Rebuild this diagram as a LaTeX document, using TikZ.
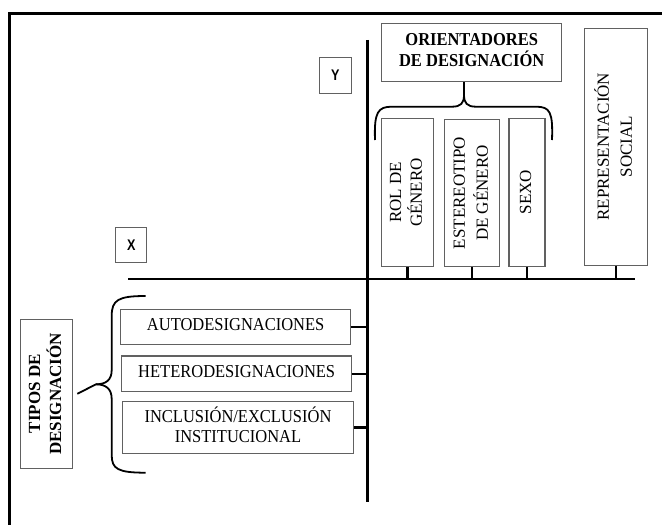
\documentclass[tikz,border=0pt]{standalone}
\usepackage{fontspec}
\setmainfont{Liberation Serif}
\newfontfamily\xysans{Liberation Sans}
\newcommand{\vtxt}[2]{\rotatebox{90}{\fontsize{17}{#1}\selectfont\begin{tabular}{@{}c@{}}#2\end{tabular}}}
\newcommand{\htxt}[1]{\scalebox{0.97}[1.07]{\begin{tabular}{@{}c@{}}#1\end{tabular}}}
\tikzset{
  box/.style={draw=black!62, line width=1.1pt, inner sep=0pt, align=center,
    font=\fontsize{17}{18}\selectfont},
  boldbox/.style={box, font=\fontsize{17}{17.5}\selectfont\bfseries},
  xybox/.style={draw=black!62, line width=1.1pt, inner sep=0pt,
    font=\xysans\bfseries\fontsize{14}{14}\selectfont},
  axis/.style={line width=2.3pt, black},
  stub/.style={line width=2.3pt, black},
  brace/.style={line width=1.8pt, black},
  frame/.style={line width=2.6pt, black}
}
\begin{document}
\begin{tikzpicture}[x=1pt, y=-1pt]
\useasboundingbox (0,0) rectangle (663,524);
% frame
\coordinate (fb) at (9.5,526);
\coordinate (fc) at (9.5,13.3);
\coordinate (fr) at (662,13.3);
\draw[frame] (fb) -- (fc) -- (fr);
% axes
\coordinate (vT) at (367.5,40);
\coordinate (vB) at (367.5,501.7);
\coordinate (hL) at (128,279);
\coordinate (hR) at (635,279);
\draw[axis] (vT) -- (vB);
\draw[axis] (hL) -- (hR);
% labels X Y
\node[xybox, minimum width=31.7pt, minimum height=36pt] (Y) at (335.2,75.3) {\scalebox{0.9}[1.1]{Y}};
\node[xybox, minimum width=31pt, minimum height=35.4pt] (X) at (131.2,245) {\scalebox{0.9}[1.1]{X}};
% top boxes
\node[boldbox, minimum width=180pt, minimum height=58.4pt] (ori) at (471.7,52.5)
  {\htxt{ORIENTADORES\\[-0.5pt]DE DESIGNACIÓN}};
\node[box, minimum width=51.6pt, minimum height=148.4pt] (rol) at (407.5,192.5)
  {\vtxt{20}{ROL DE\\GÉNERO}};
\node[box, minimum width=55pt, minimum height=147.4pt] (est) at (471.8,193)
  {\vtxt{23}{ESTEREOTIPO\\DE GÉNERO}};
\node[box, minimum width=36pt, minimum height=147.7pt] (sexo) at (527,192.2)
  {\vtxt{20}{SEXO}};
\node[box, minimum width=63.3pt, minimum height=236.7pt] (rep) at (615.7,146.7)
  {\vtxt{23}{REPRESENTACIÓN\\SOCIAL}};
% stubs to horizontal axis
\foreach \n in {rol,est,sexo,rep}
  \draw[stub] (\n.south) -- (\n.south |- hL);
% left boxes
\node[boldbox, minimum width=52.7pt, minimum height=149pt] (tipos) at (46.4,393.8)
  {\rotatebox{90}{\fontsize{17}{21}\selectfont\begin{tabular}{@{}c@{}}TIPOS DE\\DESIGNACIÓN\end{tabular}}};
\node[box, minimum width=230pt, minimum height=34.7pt] (auto) at (235.7,326.7)
  {\htxt{AUTODESIGNACIONES}};
\node[box, minimum width=230pt, minimum height=35.7pt] (hetero) at (236.7,373.8)
  {\htxt{HETERODESIGNACIONES}};
\node[box, minimum width=230.6pt, minimum height=51.6pt] (incl) at (238,427.5)
  {\htxt{INCLUSIÓN/EXCLUSIÓN\\INSTITUCIONAL}};
\foreach \n in {auto,hetero,incl}
  \draw[stub] (\n.east) -- (\n.east -| vT);
% top brace
\path (ori.south) ++(-7.7,0) coordinate (tb);
\draw[brace] (375,140) .. controls (374,112) and (378,106.7) .. (392,106.7)
  -- (452,106.7) .. controls (461,106.7) and (464,103) .. (464,95)
  -- (tb);
\draw[brace] (464,95) .. controls (464,103) and (467,106.7) .. (476,106.7)
  -- (536,106.7) .. controls (550,106.7) and (553,112) .. (552,140);
% left brace
\coordinate (lb) at ([xshift=4pt]tipos.east);
\draw[brace] (145.7,296) .. controls (118,296) and (111.7,300) .. (111.7,316)
  -- (111.7,370) .. controls (111.7,380) and (106,384.3) .. (96,384.3)
  -- (lb);
\draw[brace] (96,384.3) .. controls (106,384.3) and (111.7,389) .. (111.7,399)
  -- (111.7,455) .. controls (111.7,469) and (118,472.7) .. (145.7,472.7);
\end{tikzpicture}
\end{document}
